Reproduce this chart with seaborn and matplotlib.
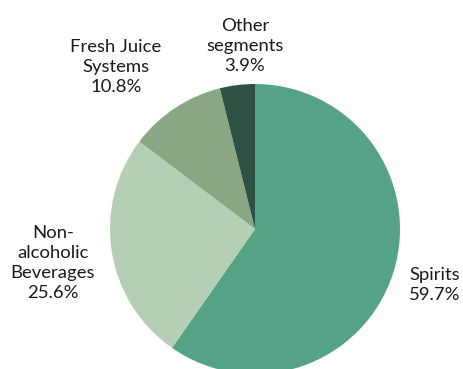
import matplotlib
matplotlib.use("Agg")
import matplotlib.pyplot as plt
import seaborn as sns

# Revenue share by segment
segments = ["Spirits", "Non-\nalcoholic\nBeverages", "Fresh Juice\nSystems", "Other\nsegments"]
shares = [59.7, 25.6, 10.8, 3.9]
colors = ["#55a386", "#b4cfb4", "#89a782", "#2e5144"]

sns.set_theme(style="white")
plt.rcParams["font.family"] = ["Lato", "DejaVu Sans"]

W, H, DPI = 464, 369, 100
fig = plt.figure(figsize=(W / DPI, H / DPI), dpi=DPI)
fig.patch.set_facecolor("white")
ax = fig.add_axes([0, 0, 1, 1])

# pie centre / radius in pixels
cx, cy, r = 255, 229, 145
ax.pie(shares, colors=colors, startangle=90, counterclock=False,
       radius=1, center=(0, 0), wedgeprops=dict(linewidth=0))

ax.set_xlim(-cx / r, (W - cx) / r)
ax.set_ylim((cy - H) / r, cy / r)
ax.set_aspect("equal")
ax.axis("off")

# label anchor points (pixels from top-left)
label_px = [(435, 285), (53, 263), (116, 67), (245, 46)]
for name, val, (px, py) in zip(segments, shares, label_px):
    ax.text((px - cx) / r, (cy - py) / r, f"{name}\n{val:.1f}%",
            ha="center", va="center", fontsize=13.3, color="#1a1a1a",
            linespacing=1.3)

fig.savefig("out.png", dpi=DPI, facecolor="white")
